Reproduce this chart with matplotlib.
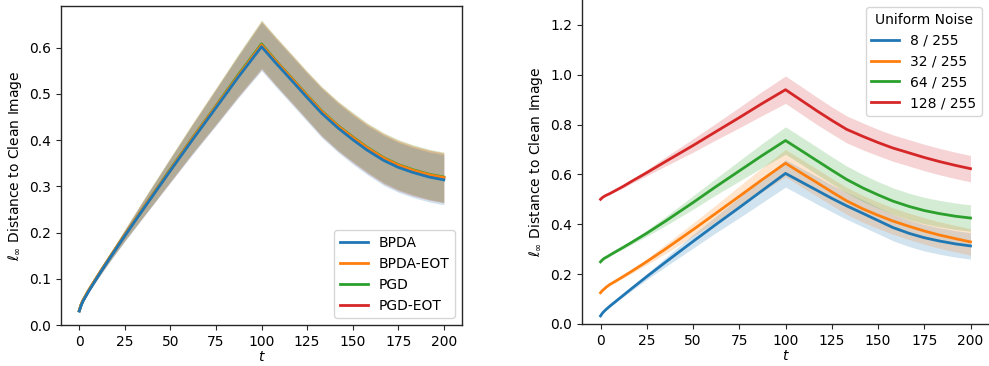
import matplotlib
matplotlib.use("Agg")
import matplotlib.pyplot as plt
import numpy as np


# time steps where values were read
T = [0, 1, 2, 3, 5, 8, 12, 17, 25, 35, 50, 62, 75, 87, 100,
     108, 117, 125, 133, 142, 150, 158, 167, 175, 183, 192, 200]

# left panel: attack methods
METHODS = ["BPDA", "BPDA-EOT", "PGD", "PGD-EOT"]
BPDA = [0.030, 0.042, 0.051, 0.058, 0.072, 0.091, 0.116, 0.146, 0.193, 0.250,
        0.334, 0.400, 0.470, 0.535, 0.602,
        0.566, 0.527, 0.492, 0.458, 0.426, 0.401, 0.378, 0.356, 0.341, 0.330,
        0.320, 0.314]
BPDA_EOT = [0.031, 0.044, 0.053, 0.060, 0.074, 0.093, 0.118, 0.148, 0.195, 0.252,
            0.336, 0.403, 0.473, 0.538, 0.606,
            0.570, 0.531, 0.496, 0.462, 0.430, 0.406, 0.383, 0.361, 0.346, 0.335,
            0.325, 0.319]
PGD = [0.031, 0.044, 0.053, 0.060, 0.074, 0.093, 0.118, 0.148, 0.195, 0.252,
       0.337, 0.404, 0.474, 0.540, 0.608,
       0.571, 0.532, 0.497, 0.463, 0.431, 0.407, 0.384, 0.362, 0.347, 0.336,
       0.326, 0.320]
PGD_EOT = [0.031, 0.043, 0.052, 0.059, 0.073, 0.092, 0.117, 0.147, 0.194, 0.251,
           0.335, 0.402, 0.472, 0.537, 0.605,
           0.569, 0.530, 0.495, 0.461, 0.429, 0.404, 0.381, 0.359, 0.344, 0.333,
           0.324, 0.318]
# spread (half width of band), about the same for all methods
METHOD_STD = [0.0, 0.001, 0.001, 0.002, 0.003, 0.004, 0.006, 0.008, 0.012, 0.018,
              0.026, 0.032, 0.039, 0.045, 0.052,
              0.052, 0.052, 0.052, 0.053, 0.053, 0.053, 0.053, 0.054, 0.054, 0.054,
              0.054, 0.054]

# right panel: uniform noise levels
NOISE_LABELS = ["8 / 255", "32 / 255", "64 / 255", "128 / 255"]
NOISE_8 = [0.032, 0.043, 0.051, 0.058, 0.071, 0.089, 0.113, 0.143, 0.190, 0.247,
           0.331, 0.397, 0.467, 0.533, 0.604,
           0.572, 0.536, 0.504, 0.474, 0.443, 0.415, 0.387, 0.363, 0.346, 0.333,
           0.321, 0.313]
NOISE_32 = [0.125, 0.134, 0.140, 0.147, 0.158, 0.171, 0.189, 0.212, 0.250, 0.300,
            0.378, 0.442, 0.512, 0.577, 0.645,
            0.608, 0.567, 0.530, 0.494, 0.461, 0.436, 0.413, 0.391, 0.373, 0.357,
            0.342, 0.329]
NOISE_64 = [0.249, 0.257, 0.263, 0.267, 0.276, 0.289, 0.306, 0.328, 0.364, 0.412,
            0.487, 0.549, 0.614, 0.674, 0.736,
            0.698, 0.655, 0.617, 0.580, 0.545, 0.518, 0.493, 0.471, 0.455, 0.443,
            0.432, 0.425]
NOISE_128 = [0.500, 0.507, 0.512, 0.516, 0.523, 0.535, 0.551, 0.573, 0.607, 0.651,
             0.716, 0.770, 0.828, 0.883, 0.940,
             0.900, 0.855, 0.817, 0.781, 0.752, 0.728, 0.706, 0.686, 0.668, 0.652,
             0.636, 0.623]
NOISE_STD = [0.0, 0.001, 0.001, 0.002, 0.003, 0.004, 0.006, 0.008, 0.012, 0.018,
             0.027, 0.033, 0.041, 0.048, 0.055,
             0.055, 0.055, 0.054, 0.054, 0.054, 0.053, 0.053, 0.053, 0.053, 0.053,
             0.053, 0.053]

COLORS = ["#1f77b4", "#ff7f0e", "#2ca02c", "#d62728"]
EDGE = "0.15"


def style_axes(ax, box):
    for side in ["left", "bottom", "top", "right"]:
        ax.spines[side].set_color(EDGE)
        ax.spines[side].set_linewidth(1.0)
    if not box:
        ax.spines["top"].set_visible(False)
        ax.spines["right"].set_visible(False)
    ax.tick_params(colors=EDGE, labelcolor="black", labelsize=10)
    ax.set_xlabel("$t$", fontsize=10, labelpad=1)
    ax.set_ylabel(r"$\ell_\infty$ Distance to Clean Image", fontsize=10)
    ax.set_xticks([0, 25, 50, 75, 100, 125, 150, 175, 200])


def main():
    fig = plt.figure(figsize=(9.89, 3.66), dpi=100)
    t = np.array(T)
    std_m = np.array(METHOD_STD)
    std_n = np.array(NOISE_STD)

    # left panel, drawn in reverse so BPDA sits on top
    ax = fig.add_axes([0.0617, 0.112, 0.4055, 0.8716])
    series = [BPDA, BPDA_EOT, PGD, PGD_EOT]
    handles = [None] * 4
    for i in reversed(range(4)):
        y = np.array(series[i])
        ax.fill_between(t, y - std_m, y + std_m, color=COLORS[i], alpha=0.2, linewidth=0)
        (ln,) = ax.plot(t, y, color=COLORS[i], linewidth=2, label=METHODS[i])
        handles[i] = ln
    ax.set_ylim(0, 0.69)
    ax.set_xlim(-10, 210)
    style_axes(ax, box=True)
    ax.legend(handles=handles, loc="lower right", fontsize=10)

    # right panel
    ax = fig.add_axes([0.5885, 0.115, 0.4115, 0.885])
    noise = [NOISE_8, NOISE_32, NOISE_64, NOISE_128]
    for i in range(4):
        y = np.array(noise[i])
        ax.plot(t, y, color=COLORS[i], linewidth=2, label=NOISE_LABELS[i])
        ax.fill_between(t, y - std_n, y + std_n, color=COLORS[i], alpha=0.2, linewidth=0)
    ax.set_ylim(0, 1.3)
    ax.set_xlim(-10, 210)
    ax.set_yticks([0.0, 0.2, 0.4, 0.6, 0.8, 1.0, 1.2])
    style_axes(ax, box=False)
    ax.legend(title="Uniform Noise", loc="upper right", fontsize=10, title_fontsize=10)

    fig.savefig("out.png", dpi=100)
    plt.close(fig)


if __name__ == "__main__":
    main()
